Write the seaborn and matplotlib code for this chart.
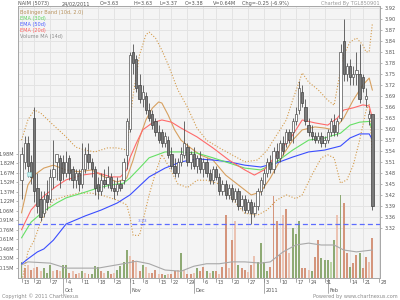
import numpy as np
import pandas as pd
import matplotlib
matplotlib.use("Agg")
import matplotlib.pyplot as plt
import matplotlib.transforms as mtransforms
from matplotlib import font_manager
import seaborn as sns

# ---------------- data (trading-day index 0 = 13 Sep 2010) ----------------
open_ = [3.45,3.50,3.55,3.50,3.62,3.43,3.40,3.36,3.41,3.40,3.46,3.50,3.51,
         3.50,3.47,3.51,3.48,3.45,3.47,3.44,3.48,3.52,3.50,3.48,3.44,3.42,3.45,3.44,3.46,3.43,3.42,3.44,3.45,3.52,
         3.59,3.80,3.78,3.71,3.67,3.68,3.64,3.63,3.61,3.58,3.58,3.55,3.56,3.52,3.49,3.47,3.50,3.52,3.54,3.50,
         3.52,3.49,3.51,3.48,3.50,3.47,3.45,3.48,3.46,3.42,3.44,3.41,3.43,3.40,3.42,3.38,3.40,3.37,3.39,3.36,3.38,3.42,
         3.44,3.47,3.50,3.48,3.53,3.51,3.55,3.55,3.58,3.58,3.61,3.64,3.69,3.65,3.60,3.58,3.57,3.56,3.57,3.55,
         3.56,3.58,3.60,3.58,3.62,3.83,3.74,3.76,3.73,3.74,3.74,3.73,3.67,3.62,3.63]
high = [3.54,3.57,3.57,3.52,3.65,3.47,3.42,3.42,3.45,3.48,3.56,3.52,3.52,
        3.52,3.53,3.52,3.49,3.48,3.48,3.55,3.54,3.55,3.51,3.49,3.46,3.47,3.48,3.49,3.47,3.45,3.46,3.45,3.51,3.62,
        3.80,3.82,3.79,3.74,3.71,3.69,3.66,3.64,3.62,3.60,3.59,3.58,3.57,3.54,3.51,3.51,3.54,3.61,3.55,3.53,
        3.54,3.52,3.53,3.51,3.51,3.48,3.49,3.49,3.47,3.45,3.45,3.44,3.44,3.43,3.43,3.41,3.41,3.40,3.40,3.39,3.43,3.46,
        3.48,3.51,3.52,3.54,3.55,3.56,3.57,3.59,3.59,3.62,3.65,3.72,3.71,3.67,3.62,3.60,3.58,3.58,3.58,3.57,
        3.59,3.62,3.63,3.62,3.82,3.89,3.77,3.78,3.76,3.80,3.82,3.74,3.70,3.64,3.63]
low = [3.40,3.48,3.46,3.44,3.39,3.36,3.34,3.35,3.37,3.39,3.43,3.45,3.43,
       3.45,3.46,3.45,3.43,3.43,3.42,3.43,3.47,3.48,3.46,3.41,3.40,3.41,3.43,3.43,3.42,3.40,3.41,3.42,3.44,3.48,
       3.58,3.74,3.69,3.66,3.65,3.63,3.61,3.59,3.57,3.55,3.54,3.54,3.51,3.48,3.46,3.46,3.49,3.51,3.49,3.48,
       3.48,3.47,3.47,3.46,3.46,3.44,3.44,3.45,3.41,3.41,3.40,3.40,3.39,3.39,3.37,3.37,3.36,3.36,3.33,3.35,3.37,3.41,
       3.43,3.46,3.47,3.47,3.50,3.50,3.52,3.54,3.55,3.55,3.60,3.63,3.65,3.60,3.57,3.56,3.55,3.55,3.54,3.54,
       3.55,3.57,3.57,3.57,3.61,3.72,3.72,3.71,3.71,3.71,3.66,3.69,3.65,3.60,3.37]
close = [3.52,3.55,3.49,3.46,3.42,3.38,3.35,3.40,3.39,3.46,3.48,3.52,3.45,
         3.47,3.50,3.47,3.45,3.47,3.44,3.48,3.52,3.50,3.48,3.43,3.42,3.45,3.44,3.46,3.43,3.42,3.44,3.43,3.50,3.61,
         3.79,3.77,3.70,3.67,3.69,3.64,3.62,3.60,3.58,3.56,3.55,3.57,3.52,3.49,3.47,3.50,3.52,3.55,3.50,3.52,
         3.49,3.51,3.48,3.50,3.47,3.45,3.48,3.46,3.42,3.44,3.41,3.43,3.40,3.42,3.38,3.40,3.37,3.39,3.36,3.38,3.42,3.45,
         3.47,3.50,3.48,3.53,3.51,3.55,3.53,3.58,3.56,3.61,3.63,3.70,3.66,3.61,3.58,3.57,3.56,3.57,3.55,3.56,
         3.58,3.61,3.58,3.61,3.80,3.74,3.76,3.73,3.74,3.75,3.67,3.70,3.68,3.63,3.38]

volume_m = [0.25,0.15,0.20,0.12,0.15,0.17,0.10,0.15,0.08,0.20,0.10,0.12,0.10,
            0.20,0.20,0.08,0.10,0.05,0.08,0.10,0.08,0.06,0.05,0.18,0.17,0.10,0.08,0.10,0.06,0.08,0.12,0.18,0.25,0.44,
            0.35,0.28,0.25,0.10,0.20,0.17,0.08,0.07,0.12,0.06,0.06,0.04,0.05,0.06,0.10,0.12,0.39,0.12,0.05,0.06,
            0.07,0.15,0.10,0.17,0.10,0.08,0.10,0.10,0.06,0.17,1.00,0.15,0.60,0.90,0.20,0.16,0.12,0.09,0.20,0.35,0.25,0.55,
            0.25,0.10,0.17,1.30,0.90,0.36,1.00,1.10,0.40,0.80,0.70,0.90,0.16,0.16,0.12,0.10,0.33,0.60,0.32,0.28,
            0.28,0.25,0.60,1.00,1.32,1.19,0.39,0.17,0.23,0.36,0.39,0.15,0.33,0.25,0.63]
volume_tone = ['g','r','lr','r','lr','r','lr','g','g','g','lr','r','lr',
               'g','g','r','lr','r','lr','g','lr','r','g','g','g','r','lr','g','r','lr','g','g','g','g',
               'lr','r','lr','r','g','lr','lr','r','r','lr','r','g','lr','r','r','lr','g','lr','r','r',
               'lr','g','r','r','g','lr','g','r','lr','r','r','lr','r','lr','g','r','r','lr','r','lr','g','g',
               'g','g','r','r','r','r','lr','r','lr','g','g','g','r','r','lr','g','r','r','g','g',
               'g','lg','g','lr','g','r','r','g','r','r','g','r','r','lr','r']

ema50_idx = [0,2,5,7,10,14,20,25,30,34,40,45,50,55,60,65,70,75,80,85,90,95,100,103,106,109,110]
ema50_val = [3.222,3.236,3.255,3.263,3.287,3.331,3.353,3.369,3.388,3.410,3.459,3.483,3.500,3.508,3.505,
             3.500,3.491,3.486,3.497,3.513,3.527,3.532,3.543,3.565,3.576,3.576,3.560]
ema30_idx = [0,3,7,11,14,19,24,28,32,34,37,40,45,50,55,60,65,70,75,80,85,90,95,100,103,106,109,110]
ema30_val = [3.293,3.336,3.366,3.388,3.402,3.415,3.429,3.437,3.442,3.456,3.483,3.511,3.527,3.527,3.524,
             3.511,3.497,3.483,3.478,3.500,3.532,3.559,3.565,3.578,3.600,3.608,3.610,3.587]
ema20_idx = [0,3,7,11,14,19,24,28,31,33,34,36,38,41,44,47,50,55,60,65,70,73,76,80,85,88,92,96,99,101,104,107,109,110]
ema20_val = [3.315,3.369,3.407,3.434,3.451,3.464,3.470,3.459,3.459,3.478,3.511,3.551,3.587,3.606,3.614,3.608,
             3.592,3.568,3.538,3.505,3.478,3.464,3.478,3.519,3.573,3.614,3.606,3.600,3.619,3.641,3.647,3.655,3.652,3.619]
bbmid_idx = [0,2,4,7,10,14,18,22,26,30,33,35,37,39,41,43,44,46,48,50,53,56,60,64,68,72,75,78,82,85,88,92,95,98,
             101,104,107,109,110]
bbmid_val = [3.361,3.437,3.464,3.483,3.491,3.478,3.473,3.478,3.459,3.445,3.456,3.505,3.565,3.614,3.646,3.663,
             3.660,3.627,3.587,3.559,3.538,3.519,3.505,3.464,3.437,3.410,3.418,3.456,3.519,3.559,3.587,3.595,
             3.592,3.587,3.619,3.668,3.709,3.728,3.695]
bbup_idx = [0,2,4,6,9,14,17,20,23,27,30,33,34,35,37,39,40,42,44,46,49,52,55,58,62,66,70,74,77,80,83,85,87,88,
            90,93,96,98,100,101,103,105,107,108,109,110]
bbup_val = [3.559,3.614,3.641,3.633,3.608,3.568,3.540,3.532,3.527,3.538,3.538,3.532,3.614,3.682,3.791,3.846,
            3.853,3.837,3.804,3.764,3.696,3.649,3.592,3.559,3.538,3.519,3.500,3.505,3.532,3.573,3.614,3.668,
            3.717,3.742,3.717,3.696,3.668,3.654,3.750,3.791,3.826,3.837,3.818,3.799,3.800,3.877]
bblo_idx = [0,2,4,6,8,10,14,18,22,26,30,33,34,35,37,40,42,44,46,49,52,55,58,62,66,70,74,77,80,83,86,88,91,94,
            96,98,100,102,104,106,108,109,110]
bblo_val = [3.170,3.255,3.287,3.336,3.369,3.396,3.407,3.415,3.415,3.407,3.396,3.383,3.350,3.300,3.300,3.410,
            3.470,3.520,3.490,3.440,3.430,3.450,3.450,3.440,3.400,3.360,3.355,3.369,3.396,3.410,3.400,3.410,
            3.464,3.511,3.519,3.511,3.442,3.451,3.491,3.559,3.640,3.656,3.513]
volma_idx = [0,2,9,14,24,33,36,40,45,50,54,58,62,66,70,75,78,82,86,90,94,98,101,105,110]
volma_val = [0.20,0.25,0.23,0.15,0.15,0.23,0.26,0.22,0.12,0.10,0.18,0.22,0.22,0.25,0.25,0.23,0.25,0.41,
             0.52,0.55,0.52,0.52,0.44,0.41,0.44]

week_idx = [0,4,9,14,19,24,29,34,38,43,47,52,57,61,66,71,76,81,86,90,95,103,107,112]
week_lbl = ['13','20','27','4','11','18','25','1','8','15','22','29','6','13','20','27','3','10','17','24',
            '31','14','21','28']
month_idx = [13,34,54,76,96]
month_lbl = ['Oct','Nov','Dec','2011','Feb']

price_ticks = [3.92,3.89,3.86,3.83,3.80,3.77,3.74,3.71,3.68,3.65,3.62,3.59,3.56,3.53,3.50,3.47,3.44,3.41,
               3.38,3.35,3.32]
price_lbl = ['3.92','3.90','3.87','3.84','3.81','3.78','3.75','3.72','3.69','3.66','3.63','3.60','3.57',
             '3.54','3.51','3.48','3.45','3.42','3.39','3.36','3.32']
vol_lbl = ['0.15M','0.30M','0.46M','0.61M','0.76M','0.91M','1.06M','1.22M','1.37M','1.52M','1.67M','1.82M','1.98M']
support_level = 3.331

# ---------------- style ----------------
sns.set_style("white")
names = {f.name for f in font_manager.fontManager.ttflist}
if 'Liberation Sans Narrow' in names:
    FAM, FS = 'Liberation Sans Narrow', 4.4
else:
    FAM, FS = 'DejaVu Sans', 3.6
plt.rcParams['font.family'] = [FAM]

W, H = 400, 300
fig = plt.figure(figsize=(4, 3), dpi=100)
fig.patch.set_facecolor('white')
L, R, T, B = 18, 380, 6, 277.5
axv = fig.add_axes([L / W, 1 - B / H, (R - L) / W, (B - T) / H])
axv.set_facecolor('#f4f4f4')
axp = axv.twinx()
axp.patch.set_visible(False)

x0 = 21.5
dx = 3.19
xlim = ((L - x0) / dx, (R - x0) / dx)
pmin = 3.92 - (B - 7.5) / 367.5
pmax = 3.92 + (7.5 - T) / 367.5
vmax = (B - T) / 62.5
for a in (axv, axp):
    a.set_xlim(*xlim)
axp.set_ylim(pmin, pmax)
axv.set_ylim(0, vmax)

gcol = '#e3e3e3'
for p in price_ticks:
    f = (p - pmin) / (pmax - pmin)
    axv.plot([0, 1], [f, f], transform=axv.transAxes, color=gcol, lw=0.7, zorder=0)
for xi in week_idx:
    axv.axvline(xi, color=gcol, lw=0.7, zorder=0)

tone_col = {'g': '#8eaa74', 'lg': '#bcd4a6', 'r': '#d4957c', 'lr': '#ebc3b3'}
n = len(close)
idx = np.arange(n)
axv.bar(idx, volume_m, width=0.62, color=[tone_col[t] for t in volume_tone], linewidth=0, zorder=2)
sns.lineplot(x=volma_idx, y=volma_val, ax=axv, color='#a8a8a8', lw=0.8, estimator=None, sort=False, zorder=3)

sns.lineplot(x=bbup_idx, y=bbup_val, ax=axp, color='#d39a4a', lw=0.8, ls=(0, (1, 1.6)), estimator=None, sort=False, zorder=3)
sns.lineplot(x=bblo_idx, y=bblo_val, ax=axp, color='#d39a4a', lw=0.8, ls=(0, (1, 1.6)), estimator=None, sort=False, zorder=3)
sns.lineplot(x=bbmid_idx, y=bbmid_val, ax=axp, color='#d7a060', lw=0.8, estimator=None, sort=False, zorder=3)
sns.lineplot(x=ema50_idx, y=ema50_val, ax=axp, color='#3a4dff', lw=0.8, estimator=None, sort=False, zorder=3)
sns.lineplot(x=ema30_idx, y=ema30_val, ax=axp, color='#66e066', lw=0.8, estimator=None, sort=False, zorder=3)
sns.lineplot(x=ema20_idx, y=ema20_val, ax=axp, color='#ff6a6a', lw=0.8, estimator=None, sort=False, zorder=3)

axp.axhline(support_level, color='#5c6cff', lw=0.9, ls=(0, (4, 2.5)), zorder=3)
axp.text(36.4, support_level + 0.002, '3.33', color='#5c6cff', fontsize=FS - 0.4, va='bottom', ha='left', zorder=4)

o = np.array(open_); c = np.array(close); h = np.array(high); lo = np.array(low)
up = c >= o
axp.vlines(idx, lo, h, color='#505050', lw=0.6, zorder=4)
bot = np.minimum(o, c)
hei = np.maximum(np.abs(c - o), 0.004)
axp.bar(idx[up], hei[up], bottom=bot[up], width=0.72, color='white', edgecolor='#505050', linewidth=0.5, zorder=5)
axp.bar(idx[~up], hei[~up], bottom=bot[~up], width=0.72, color='#7a7a7a', edgecolor='#404040', linewidth=0.5, zorder=5)

axp.plot([2.5], [3.466], marker='s', ms=3.2, mfc='#c4ecec', mec='#88cccc', mew=0.4, zorder=6)

for a in (axv, axp):
    for s in a.spines.values():
        s.set_color('#a8a8a8')
        s.set_linewidth(0.7)
    a.set_xticks([])
    a.set_xlabel('')
    a.set_ylabel('')
axp.set_yticks(price_ticks)
axp.set_yticklabels(price_lbl)
axp.tick_params(axis='y', which='both', right=True, length=1.5, width=0.5, color='#999999',
                labelsize=FS, labelcolor='#555555', pad=1.5)
axv.set_yticks([0.1523 * (k + 1) for k in range(len(vol_lbl))])
axv.set_yticklabels(vol_lbl)
axv.tick_params(axis='y', which='both', left=True, length=1.5, width=0.5, color='#999999',
                labelsize=FS, labelcolor='#555555', pad=1.0)

trans = mtransforms.blended_transform_factory(axv.transData, axv.transAxes)
ax_h = (B - T)
for xi, lb in zip(week_idx, week_lbl):
    axv.plot([xi, xi], [0, -4 / ax_h], transform=trans, color='#888888', lw=0.5, clip_on=False)
    axv.text(xi + 0.5, -4.8 / ax_h, lb, transform=trans, ha='left', va='center', fontsize=FS,
             color='#555555')
for xi, lb in zip(month_idx, month_lbl):
    axv.plot([xi, xi], [0, -15 / ax_h], transform=trans, color='#888888', lw=0.5, clip_on=False)
    axv.text(xi + 0.5, -13.5 / ax_h, lb, transform=trans, ha='left', va='center', fontsize=FS,
             color='#555555')

def ftxt(x, y, s, **kw):
    fig.text(x / W, 1 - y / H, s, va='center', fontsize=FS, **kw)

hdr = [(18, 'NAIM (5073)'), (62, '24/02/2011'), (100, 'O=3.63'), (133, 'H=3.63'), (160, 'L=3.37'),
       (185, 'C=3.38'), (213, 'V=0.64M'), (242, 'Chg=-0.25 (-6.9%)')]
for x, s in hdr:
    ftxt(x, 3.8, s, color='#555555')
ftxt(380, 3.8, 'Charted By TGL850901', color='#999999', ha='right')

leg = [('Bollinger Band (10d, 2.0)', '#b8925c'), ('EMA (30d)', '#5fd65f'), ('EMA (50d)', '#4a5cff'),
       ('EMA (20d)', '#ff6060'), ('Volume MA (14d)', '#8c8c8c')]
for i, (s, col) in enumerate(leg):
    ftxt(19.5, 12.3 + 6.0 * i, s, color=col)

ftxt(2, 296, 'Copyright \u00a9 2011 ChartNexus', color='#8a8a8a')
ftxt(398, 296.5, 'Powered by www.chartnexus.com', color='#8a8a8a', ha='right')

fig.savefig('out.png', dpi=100, facecolor='white')
